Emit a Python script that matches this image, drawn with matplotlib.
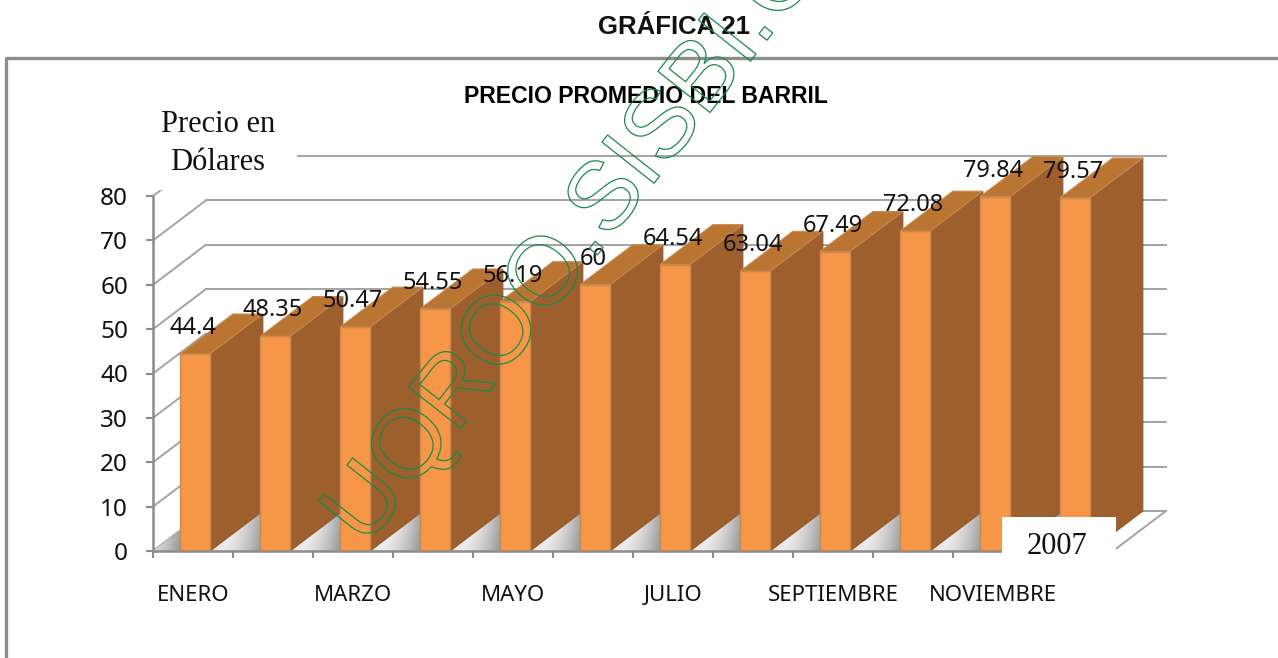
import numpy as np
import matplotlib
matplotlib.use("Agg")
import matplotlib.pyplot as plt
import matplotlib.patheffects as pe
from matplotlib.lines import Line2D
from matplotlib.patches import Polygon, Rectangle

W, H = 1278, 658

months = ["ENERO", "FEBRERO", "MARZO", "ABRIL", "MAYO", "JUNIO", "JULIO",
          "AGOSTO", "SEPTIEMBRE", "OCTUBRE", "NOVIEMBRE", "DICIEMBRE"]
precios = [44.4, 48.35, 50.47, 54.55, 56.19, 60, 64.54, 63.04, 67.49, 72.08, 79.84, 79.57]
y_ticks = [0, 10, 20, 30, 40, 50, 60, 70, 80]

# depth of the fake 3d box, in data units
DX = 0.66
DY = 9.0
BAR_W = 0.375
BAR_SHIFT = 0.025

FRONT = "#f79646"
SIDE = "#9c5f2d"
TOP = "#bb7533"
GRID = "#a3a3a3"
AXIS = "#8c8c8c"
GREEN = "#1a8a4a"

fig = plt.figure(figsize=(W / 100, H / 100), dpi=100, facecolor="white")


def px_rect(x0, y0, x1, y1):
    # pixel box (from top left) to figure fractions
    return [x0 / W, 1 - y1 / H, (x1 - x0) / W, (y1 - y0) / H]


ax = fig.add_axes(px_rect(153, 196, 1113, 551))
ax.set_facecolor("none")

#==# walls #==#
for v in y_ticks:
    ax.plot([DX, 12 + DX], [v + DY, v + DY], color=GRID, lw=1.4, clip_on=False, zorder=1)
    ax.plot([0, DX], [v, v + DY], color=GRID, lw=1.4, clip_on=False, zorder=1)
ax.plot([12, 12 + DX], [0, DY], color=GRID, lw=1.4, clip_on=False, zorder=1)

#==# floor, one gradient per category #==#
pattern = np.abs(np.linspace(-1, 1, 80))[None, :] ** 1.5
shade = np.linspace(0, 0.08, 12)[:, None]
grad = np.clip(1 - 0.36 * pattern - shade, 0, 1)
floor = Polygon([(0, 0), (DX, DY), (12 + DX, DY), (12, 0)], transform=ax.transData,
                fc="none", ec="none")
ax.add_patch(floor)
for i in range(-1, len(months)):
    im = ax.imshow(grad, cmap="gray", vmin=0, vmax=1, aspect="auto", zorder=2,
                   extent=[i + 0.37, i + 1.37, 0, DY])
    im.set_clip_path(floor)

#==# bars #==#
for i, v in enumerate(precios):
    left = i + 0.5 + BAR_SHIFT - BAR_W / 2
    right = left + BAR_W
    z = 3 + i
    ax.add_patch(Polygon([(right, 0), (right + DX, DY), (right + DX, v + DY), (right, v)],
                         fc=SIDE, ec="#8f5629", lw=0.8, clip_on=False, zorder=z))
    ax.add_patch(Polygon([(left, v), (left + DX, v + DY), (right + DX, v + DY), (right, v)],
                         fc=TOP, ec="#c98a4e", lw=0.8, clip_on=False, zorder=z))
    ax.bar(i + 0.5 + BAR_SHIFT, v, width=BAR_W, color=FRONT, edgecolor="#c98a4e",
           lw=1.0, zorder=z + 0.5, clip_on=False)

for i, v in enumerate(precios):
    ax.annotate(str(v), (i + 0.5, v), xytext=(0, 18.7), textcoords="offset points",
                ha="center", va="center", fontsize=17, family="Noto Sans",
                color="#111111", zorder=30, annotation_clip=False)

ax.set_xlim(0, 12)
ax.set_ylim(0, 80)

for s in ["top", "right"]:
    ax.spines[s].set_visible(False)
for s in ["left", "bottom"]:
    ax.spines[s].set_color(AXIS)
    ax.spines[s].set_linewidth(1.8)
    ax.spines[s].set_zorder(20)

ax.set_yticks(y_ticks)
ax.set_yticklabels([str(v) for v in y_ticks], fontsize=17.5, family="Noto Sans", color="#111111")
ax.tick_params(axis="y", length=5, width=1.5, color=AXIS, pad=13)

ax.set_xticks(np.arange(13))
ax.set_xticklabels([])
ax.tick_params(axis="x", which="major", length=5, width=1.5, color=AXIS)
ax.set_xticks(np.arange(12) + 0.5, minor=True)
ax.set_xticklabels([m if i % 2 == 0 else "" for i, m in enumerate(months)], minor=True,
                   fontsize=16, family="Noto Sans", color="#111111", va="baseline")
ax.tick_params(axis="x", which="minor", length=0, pad=36)

#==# boxes pasted over the chart #==#
fig.add_artist(Rectangle((148 / W, 1 - 190 / H), 149 / W, 85 / H, transform=fig.transFigure,
                         fc="white", ec="none", zorder=2))
fig.add_artist(Rectangle((1002 / W, 1 - 558 / H), 114 / W, 41 / H, transform=fig.transFigure,
                         fc="white", ec="none", zorder=2))

#==# outer frame #==#
fig.add_artist(Line2D([6 / W, 6 / W, 1], [0, 1 - 58 / H, 1 - 58 / H], color=AXIS, lw=2.4, zorder=3))

fig.text(674 / W, 1 - 27 / H, "GRÁFICA 21", ha="center", va="center", fontsize=18.5,
         fontweight="bold", family="Liberation Sans", color="#111111", zorder=5)
fig.text(646 / W, 1 - 96.5 / H, "PRECIO PROMEDIO DEL BARRIL", ha="center", va="center", fontsize=16.6,
         fontweight="bold", family="Liberation Sans", color="black", zorder=5)
fig.text(218 / W, 1 - 124 / H, "Precio en", ha="center", va="center", fontsize=22,
         family="Liberation Serif", color="#111111", zorder=5)
fig.text(218 / W, 1 - 162 / H, "Dólares", ha="center", va="center", fontsize=22,
         family="Liberation Serif", color="#111111", zorder=5)
fig.text(1057 / W, 1 - 546 / H, "2007", ha="center", va="center", fontsize=22,
         family="Liberation Serif", color="#111111", zorder=5)

#==# watermark, outline only #==#
mark = fig.text(366 / W, 1 - 548 / H, "UQROO.SISBI.C", ha="left", va="baseline", rotation=51.7,
                rotation_mode="anchor", fontsize=69.5, family="Liberation Sans", color="none", zorder=6)
mark.set_path_effects([pe.Stroke(linewidth=0.9, foreground=GREEN)])

plt.savefig("out.png", dpi=100)
